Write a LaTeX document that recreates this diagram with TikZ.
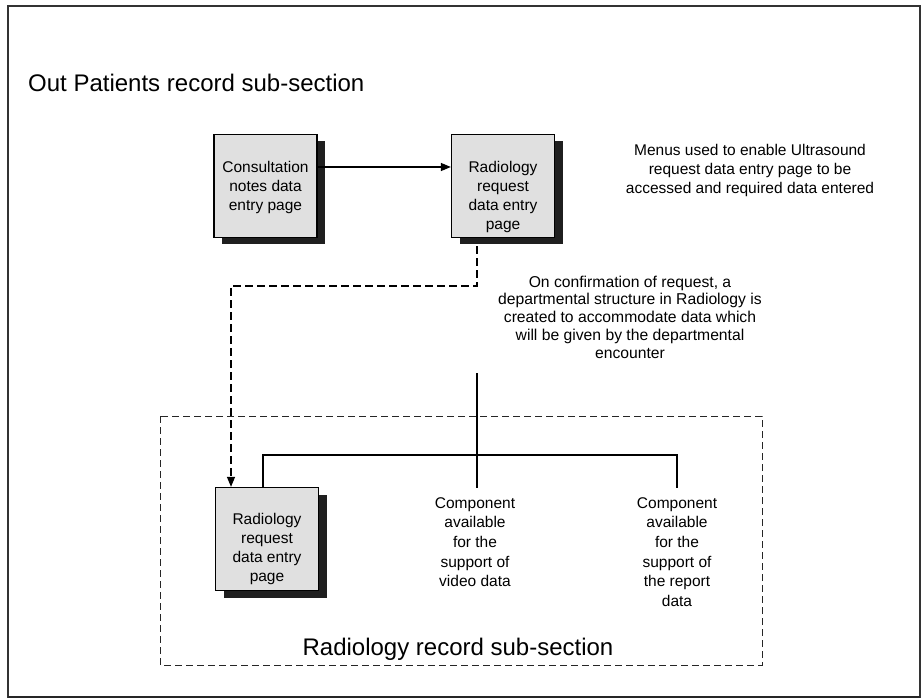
\documentclass[tikz,border=0pt]{standalone}
\usepackage{fontspec}
\setmainfont{Liberation Sans}
\usetikzlibrary{arrows.meta,shadows}

\tikzset{
  pagebox/.style={draw=black, line width=1.3pt, fill=black!12,
    minimum width=103pt, minimum height=103pt, inner sep=0pt,
    drop shadow={shadow xshift=8pt, shadow yshift=-7pt, fill=black!88, opacity=1}},
  boxtext/.style={align=center, inner sep=0pt, anchor=north,
    font=\fontsize{15.5}{19}\selectfont},
  note/.style={align=center, inner sep=0pt, font=\fontsize{15.5}{19}\selectfont},
  compnote/.style={align=center, inner xsep=0pt, inner ysep=9pt, anchor=north,
    font=\fontsize{15.5}{19.7}\selectfont},
  heading/.style={inner sep=0pt, font=\fontsize{24}{28}\selectfont},
  link/.style={line width=1.3pt, -{Triangle[length=10pt,width=8pt]}},
  dashlink/.style={line width=1.3pt, dash pattern=on 8pt off 4pt,
    -{Triangle[length=10pt,width=8pt]}},
  tree/.style={line width=1.3pt},
  section/.style={line width=1pt, dash pattern=on 7pt off 4pt, draw=black!85}
}

\begin{document}
\begin{tikzpicture}[x=1pt,y=-1pt]
  \useasboundingbox (0,0) rectangle (923,700);

  % outer frame
  \draw[line width=1.4pt, black!80] (8,6) rectangle (920,697);
  \draw[line width=2.6pt, black!85] (8,697) -- (920,697);

  % headings
  \node[heading, anchor=base west] (optitle) at (28,92) {Out Patients record sub-section};

  % radiology sub-section frame
  \draw[section] (160,416) rectangle (762,665);
  \node[heading, anchor=base] (radtitle) at (458,655) {Radiology record sub-section};

  % data entry pages
  \node[pagebox] (cons) at (265.5,186) {};
  \node[boxtext] (conslbl) at ([yshift=-27pt]cons.north) {Consultation\\notes data\\entry page};

  \node[pagebox] (rreq) at (503,186) {};
  \node[boxtext] (rreqlbl) at ([yshift=-27pt]rreq.north) {Radiology\\request\\data entry\\page};

  \node[pagebox] (rrad) at (267,539) {};
  \node[boxtext] (rradlbl) at ([yshift=-26.5pt]rrad.north) {Radiology\\request\\data entry\\page};

  % notes
  \node[note] (menus) at (750,170) {Menus used to enable Ultrasound\\request data entry page to be\\accessed and required data entered};

  \node[note, font=\fontsize{15.7}{17.8}\selectfont] (confirm) at (630,317)
    {On confirmation of request, a\\departmental structure in Radiology is\\created to accommodate data which\\will be given by the departmental\\encounter};

  % components
  \node[compnote] (video) at (475,488) {Component\\available\\for the\\support of\\video data};
  \node[compnote] (report) at (677,488) {Component\\available\\for the\\support of\\the report\\data};

  % connectors
  \coordinate (bend) at (231,286);
  \coordinate (vtop) at (477,373);
  \coordinate (hbar) at (477,455);

  \draw[link] ([yshift=19pt]cons.east) -- ([yshift=19pt]rreq.west);
  \draw[dashlink] ([xshift=-26pt,yshift=-8pt]rreq.south) |- (bend) -- (bend |- rrad.north);
  \draw[tree] (vtop) -- (hbar |- video.north);
  \draw[tree] ([xshift=-4pt]rrad.north) |- (hbar) -| (report.north);
\end{tikzpicture}
\end{document}
